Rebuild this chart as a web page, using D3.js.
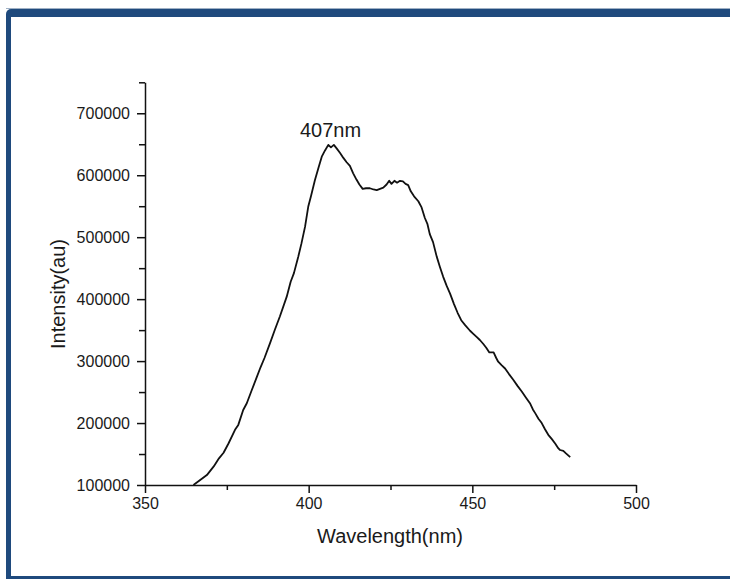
<!DOCTYPE html>
<html>
<head>
<meta charset="utf-8">
<script src="https://cdn.jsdelivr.net/npm/d3@7"></script>
<style>
  html, body { margin: 0; padding: 0; background: #fff; }
  svg { display: block; }
  text { font-family: "Liberation Sans", Arial, sans-serif; fill: #1a1a1a; }
</style>
</head>
<body>
<svg id="chart" width="730" height="579"></svg>
<script>
const wavelength = [364.8,368.9,371.0,372.6,374.0,375.5,377.5,378.5,380.0,381.1,382.6,384.0,385.3,386.5,388.2,389.7,391.2,393.3,394.5,395.5,396.8,397.8,398.9,399.9,400.7,401.9,403.0,404.0,405.0,406.0,406.8,407.7,408.6,409.6,410.6,411.6,412.6,413.6,414.6,415.5,416.5,417.5,418.7,419.8,420.8,421.8,422.8,423.8,424.6,425.3,426.2,427.0,427.9,428.8,429.6,430.4,431.2,432.2,433.5,434.5,435.5,436.3,437.0,438.0,439.1,440.1,441.1,442.2,443.2,444.4,445.5,446.6,447.8,449.3,450.3,451.3,452.3,453.3,454.2,455.2,456.5,457.3,457.9,459.0,460.0,461.2,462.5,463.8,465.1,466.4,467.6,468.5,469.2,470.2,471.2,472.2,473.2,474.3,475.3,476.3,476.8,477.8,478.6,479.9];
const intensity = [100000,116000,130000,143000,152000,167000,189000,197000,221000,232000,253000,272000,290000,305000,329000,351000,372000,404000,428000,442000,468000,490000,517000,550000,566000,592000,612000,630000,640000,649000,645000,649000,643000,636000,628000,621000,615000,603000,593000,585000,578000,579000,579000,577000,576000,578000,580000,585000,591000,586000,591000,588000,591000,590000,586000,584000,574000,566000,558000,548000,531000,521000,505000,492000,469000,452000,436000,421000,409000,392000,378000,366000,358000,349000,344000,339000,334000,328000,322000,314000,314000,305000,299000,293000,288000,279000,270000,260000,251000,241000,232000,222000,216000,207000,200000,190000,181000,174000,167000,159000,156500,155000,151000,145000];
const xMajorTicks = [350, 400, 450, 500];
const xMinorTicks = [375, 425, 475];
const yMajorTicks = [100000, 200000, 300000, 400000, 500000, 600000, 700000];
const yMinorTicks = [150000, 250000, 350000, 450000, 550000, 650000, 750000];
const xDomain = [350, 500];
const yDomain = [100000, 750000];
const peakLabel = "407nm";
const peakWavelength = 407;
const peakIntensity = 649000;
const xTitle = "Wavelength(nm)";
const yTitle = "Intensity(au)";

const data = wavelength.map((w, i) => ({ w, v: intensity[i] }));
const svg = d3.select("#chart");

// frame border
const blue = "#1f4a7d";
svg.append("rect").attr("x", 6).attr("y", 9).attr("width", 740).attr("height", 580)
  .attr("rx", 5).attr("fill", blue);
svg.append("rect").attr("x", 11).attr("y", 17).attr("width", 730).attr("height", 559)
  .attr("fill", "#fff");
svg.append("line").attr("x1", 6).attr("x2", 730).attr("y1", 8.5).attr("y2", 8.5)
  .attr("stroke", "#9fb0c4").attr("stroke-width", 1);

const x = d3.scaleLinear().domain(xDomain).range([145, 636]);
const y = d3.scaleLinear().domain(yDomain).range([485, 82.3]);

const g = svg.append("g");

// X axis
const xAxis = g.append("g").attr("transform", "translate(0,485)")
  .call(d3.axisBottom(x).tickValues(xMajorTicks).tickSize(8).tickSizeOuter(0).tickPadding(5).tickFormat(d3.format("d")));
g.append("g").attr("transform", "translate(0,485)")
  .call(d3.axisBottom(x).tickValues(xMinorTicks).tickSize(5).tickSizeOuter(0).tickFormat(""))
  .select(".domain").remove();

// Y axis
const yAxis = g.append("g").attr("transform", "translate(145,0)")
  .call(d3.axisLeft(y).tickValues(yMajorTicks).tickSize(8).tickSizeOuter(0).tickPadding(7).tickFormat(d3.format("d")));
g.append("g").attr("transform", "translate(145,0)")
  .call(d3.axisLeft(y).tickValues(yMinorTicks).tickSize(6).tickSizeOuter(0).tickFormat(""))
  .select(".domain").remove();

g.selectAll(".domain, .tick line").attr("stroke", "#111").attr("stroke-width", 1.5);
xAxis.selectAll(".tick text").attr("font-size", 16).attr("font-family", "Liberation Sans, Arial, sans-serif").attr("fill", "#1a1a1a");
yAxis.selectAll(".tick text").attr("font-size", 16).attr("font-family", "Liberation Sans, Arial, sans-serif").attr("fill", "#1a1a1a");

// curve
const line = d3.line().x(d => x(d.w)).y(d => y(d.v));
g.append("path").datum(data).attr("d", line)
  .attr("fill", "none").attr("stroke", "#111").attr("stroke-width", 1.8)
  .attr("stroke-linejoin", "round");

// peak label
g.append("text").attr("x", x(peakWavelength) - 1).attr("y", y(peakIntensity) - 8)
  .attr("text-anchor", "middle").attr("font-size", 20).text(peakLabel);

// axis titles
g.append("text").attr("x", 390).attr("y", 543).attr("text-anchor", "middle")
  .attr("font-size", 20).text(xTitle);
g.append("text").attr("transform", "translate(65,294) rotate(-90)")
  .attr("text-anchor", "middle").attr("font-size", 20).text(yTitle);
</script>
</body>
</html>
